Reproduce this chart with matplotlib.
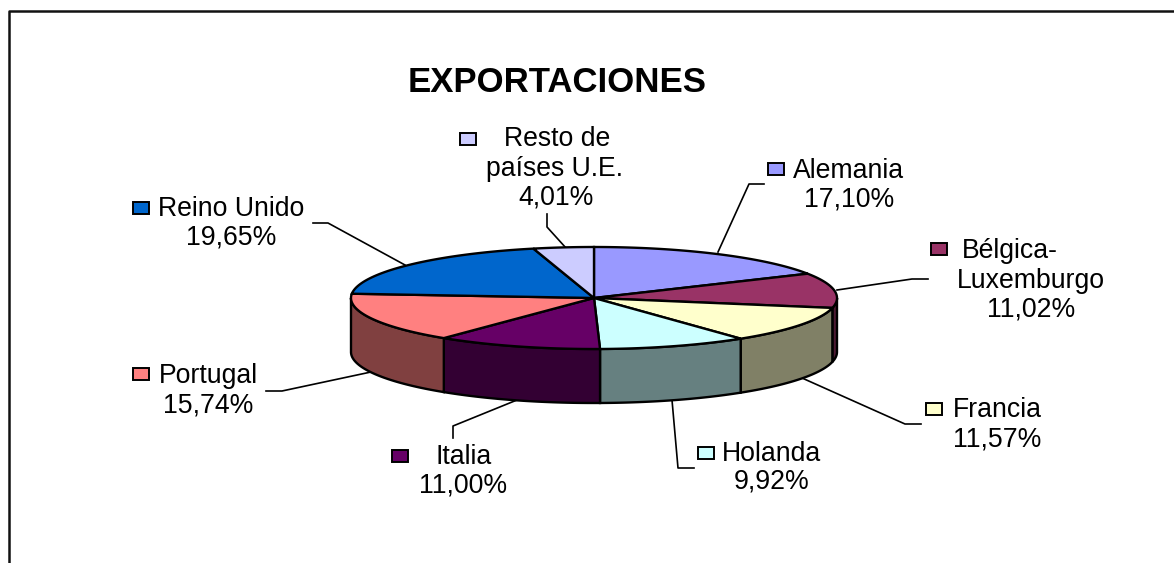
import numpy as np
import matplotlib
matplotlib.use("Agg")
import matplotlib.pyplot as plt
from matplotlib.patches import Polygon, Rectangle

plt.rcParams['font.family'] = ['Liberation Sans', 'DejaVu Sans']

countries = ["Alemania", "Bélgica-Luxemburgo", "Francia", "Holanda", "Italia",
             "Portugal", "Reino Unido", "Resto de países U.E."]
shares = [17.10, 11.02, 11.57, 9.92, 11.00, 15.74, 19.65, 4.01]
top_colors = ["#9999FF", "#993366", "#FFFFCC", "#CCFFFF", "#660066", "#FF8080", "#0066CC", "#CCCCFF"]
wall_colors = ["#4D4D80", "#4D1A33", "#808066", "#668080", "#330033", "#804040", "#003366", "#666680"]

# text lines of every label: (text, center x, centre y)
label_lines = [
    [("Alemania", 849, 171), ("17,10%", 849, 199)],
    [("Bélgica-", 1010, 251), ("Luxemburgo", 1031, 281), ("11,02%", 1031, 310)],
    [("Francia", 997, 410), ("11,57%", 997, 439)],
    [("Holanda", 772, 454), ("9,92%", 772, 482)],
    [("Italia", 464, 457), ("11,00%", 463, 486)],
    [("Portugal", 208, 376), ("15,74%", 208, 405)],
    [("Reino Unido", 231, 209), ("19,65%", 231, 238)],
    [("Resto de", 557, 139), ("países U.E.", 555, 169), ("4,01%", 556, 198)],
]
key_pos = [(768, 163), (931, 243), (926, 403), (698, 447), (392, 450), (133, 368), (133, 202), (460, 133)]
leaders = [
    [(764, 184), (749, 184), (718, 252)],
    [(928, 279), (912, 279), (837, 290)],
    [(921, 424), (905, 424), (802, 378)],
    [(694, 468), (678, 468), (672, 400)],
    [(453, 438), (453, 426), (517, 400)],
    [(266, 391), (282, 391), (371, 372)],
    [(313, 223), (328, 223), (405, 265)],
    [(547, 214), (547, 227), (566, 248)],
]

CX, CY = 594, 298
RX, RY = 243, 51
DEPTH = 54


def rim(a0, a1, drop=0):
    # points of the ellipse rim, angles in degrees clockwise from 12 o'clock
    t = np.radians(np.linspace(a0, a1, max(int(abs(a1 - a0) * 2), 2)))
    return np.column_stack([CX + RX * np.sin(t), CY - RY * np.cos(t) + drop])


fig = plt.figure(figsize=(11.74, 5.63), dpi=100)
ax = fig.add_axes([0, 0, 1, 1])
ax.set_xlim(0, 1174)
ax.set_ylim(563, 0)
ax.axis("off")

# chart frame, cut off by the picture on the right and at the bottom
ax.plot([8.5, 8.5, 1174], [563, 11, 11], color="#111111", lw=1.8, solid_capstyle="butt")

edges = np.cumsum([0] + shares) / sum(shares) * 360

# side wall, only the front half (90 to 270 degrees) can be seen
for i in range(len(shares)):
    a0, a1 = max(edges[i], 90), min(edges[i + 1], 270)
    if a1 > a0:
        pts = np.vstack([rim(a0, a1), rim(a0, a1, DEPTH)[::-1]])
        ax.add_patch(Polygon(pts, closed=True, fc=wall_colors[i], ec="black", lw=1.7, zorder=2))

# top face
for i in range(len(shares)):
    pts = np.vstack([[(CX, CY)], rim(edges[i], edges[i + 1])])
    ax.add_patch(Polygon(pts, closed=True, fc=top_colors[i], ec="black", lw=1.7, zorder=3))

for i in range(len(shares)):
    xs, ys = zip(*leaders[i])
    ax.plot(xs, ys, color="black", lw=1.2, zorder=1)
    kx, ky = key_pos[i]
    ax.add_patch(Rectangle((kx, ky), 16, 12, fc=top_colors[i], ec="black", lw=1.4, zorder=4))
    for txt, x, y in label_lines[i]:
        ax.text(x, y, txt, fontsize=19.2, ha="center", va="center", color="black")

ax.text(557, 83, "EXPORTACIONES", fontsize=25, fontweight="bold", ha="center", va="center")

fig.savefig("out.png", dpi=100)
